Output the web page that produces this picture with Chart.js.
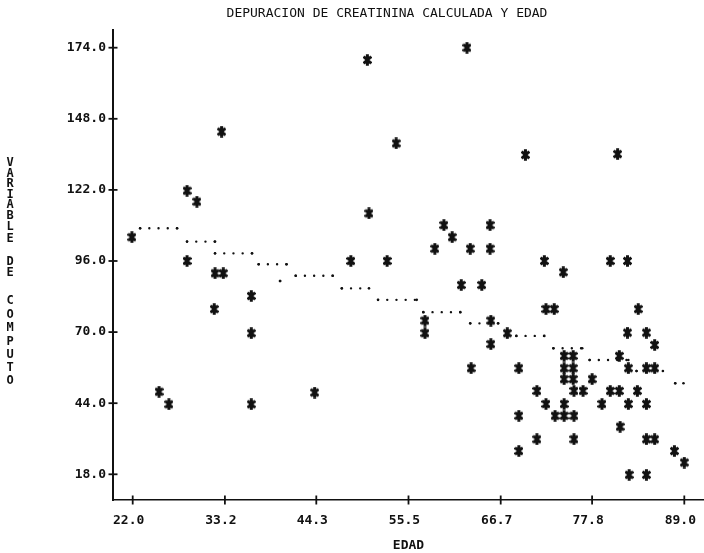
<!DOCTYPE html>
<html><head><meta charset="utf-8">
<script src="https://cdn.jsdelivr.net/npm/chart.js@4.4.0/dist/chart.umd.min.js"></script>
<style>html,body{margin:0;padding:0;background:#fff;overflow:hidden;}</style>
</head><body>
<canvas id="c" width="704" height="553"></canvas>
<script>
const chartTitle = 'DEPURACION DE CREATININA CALCULADA Y EDAD';
const xTitle = 'EDAD';
const yTitle = 'VARIABLE DE COMPUTO';
const xTickValues = [22.0, 33.2, 44.3, 55.5, 66.7, 77.8, 89.0];
const xTickLabels = ['22.0', '33.2', '44.3', '55.5', '66.7', '77.8', '89.0'];
const yTickValues = [18, 44, 70, 96, 122, 148, 174];
const yTickLabels = ['18.0', '44.0', '70.0', '96.0', '122.0', '148.0', '174.0'];

// observed cases: age (EDAD) and calculated creatinine clearance
const edad = [
  21.9, 25.2, 26.4, 28.6, 29.8, 28.6, 32.8, 32.0, 33.0, 31.9, 36.4, 36.4, 36.4, 44.1,
  50.5, 62.6, 54.0, 50.7, 59.8, 65.4, 60.8, 58.7, 63.0, 65.4, 48.5, 52.9, 61.9, 64.4,
  57.5, 57.5, 65.5, 65.5, 67.5, 63.1,
  69.7, 80.9, 72.0, 74.3, 80.0, 82.1, 72.2, 73.2, 83.4, 82.1, 84.4, 85.4, 74.4, 75.5,
  81.1, 68.9, 74.4, 75.5, 82.2, 84.4, 85.4, 74.4, 75.5, 77.8, 71.1, 75.6, 76.7, 80.0,
  81.1, 83.3, 72.2, 74.4, 79.0, 82.2, 84.4, 68.9, 73.3, 74.4, 75.6, 81.2, 71.1, 75.6,
  84.4, 85.4, 68.9, 87.8, 89.0, 82.3, 84.4
];
const depuracion = [
  104.7, 48.2, 43.6, 121.7, 117.7, 96.0, 143.3, 91.5, 91.5, 78.4, 83.2, 69.6, 43.6, 47.9,
  169.5, 174.0, 139.0, 113.4, 109.1, 109.1, 104.7, 100.5, 100.5, 100.5, 96.0, 96.0, 87.2, 87.2,
  74.2, 69.6, 74.2, 65.6, 69.6, 56.8,
  134.8, 135.1, 96.0, 91.9, 96.0, 96.0, 78.4, 78.4, 78.4, 69.8, 69.8, 65.3, 61.3, 61.3,
  61.3, 56.8, 56.8, 56.8, 56.8, 56.8, 56.8, 52.8, 52.8, 52.8, 48.5, 48.5, 48.5, 48.5,
  48.5, 48.5, 43.7, 43.7, 43.7, 43.7, 43.7, 39.4, 39.4, 39.4, 39.4, 35.4, 30.8, 30.8,
  30.8, 30.8, 26.5, 26.5, 22.3, 17.8, 17.8
];

// dotted step curve (running mean): segment start age, end age, level
const trendStart = [22.9, 28.6, 32.0, 37.3, 39.9, 41.8, 47.4, 51.8, 57.3, 63.0, 68.6, 73.1, 77.5, 83.2, 87.9];
const trendEnd   = [27.4, 32.0, 36.5, 40.7, 39.9, 46.3, 50.7, 56.5, 61.8, 66.4, 72.0, 76.6, 82.2, 86.4, 88.9];
const trendLevel = [108.0, 103.1, 98.8, 94.8, 88.7, 90.6, 86.0, 81.8, 77.3, 73.2, 68.6, 64.1, 59.8, 55.8, 51.3];

const INK = '#111';
const FONT = 'DejaVu Sans Mono';

function makeStar() {
  const c = document.createElement('canvas');
  c.width = 9; c.height = 12;
  const g = c.getContext('2d');
  g.strokeStyle = INK; g.lineWidth = 3; g.lineCap = 'butt';
  g.beginPath();
  g.moveTo(4.5, 0.3); g.lineTo(4.5, 11.7);
  g.moveTo(0.6, 2.6); g.lineTo(8.4, 9.4);
  g.moveTo(8.4, 2.6); g.lineTo(0.6, 9.4);
  g.stroke();
  g.fillStyle = INK;
  g.fillRect(2.5, 4, 4, 4);
  return c;
}

const starPts = edad.map((a, i) => ({x: a, y: depuracion[i]}));
const trendPts = [];
trendStart.forEach((s, i) => {
  trendPts.push({x: s, y: trendLevel[i]});
  trendPts.push({x: trendEnd[i], y: trendLevel[i]});
  trendPts.push({x: trendEnd[i], y: null});
});

const decor = {
  id: 'decor',
  afterDraw(chart) {
    const {ctx, chartArea: a, scales: {x, y}} = chart;
    ctx.save();
    ctx.strokeStyle = INK; ctx.lineWidth = 1.8;
    xTickValues.forEach(v => {
      const px = x.getPixelForValue(v);
      ctx.beginPath(); ctx.moveTo(px, a.bottom - 4.5); ctx.lineTo(px, a.bottom + 4.5); ctx.stroke();
    });
    yTickValues.forEach(v => {
      const py = y.getPixelForValue(v);
      ctx.beginPath(); ctx.moveTo(a.left - 4.5, py); ctx.lineTo(a.left + 4.5, py); ctx.stroke();
    });
    ctx.fillStyle = INK;
    ctx.font = '13px "' + FONT + '"';
    ctx.textAlign = 'center'; ctx.textBaseline = 'middle';
    ctx.fillText(chartTitle, 387, 14);
    ctx.font = 'bold 12px "' + FONT + '"';
    const rows = [163, 173.5, 184, 194.5, 205, 216, 227, 238.5, null, 262, 273, null, 301, 314.5, 328, 341.5, 355, 368, 381];
    yTitle.split('').forEach((ch, i) => {
      if (ch !== ' ' && rows[i] != null) ctx.fillText(ch, 10, rows[i]);
    });
    ctx.restore();
  }
};

new Chart(document.getElementById('c'), {
  type: 'scatter',
  data: {
    datasets: [
      {
        label: 'casos',
        data: starPts,
        pointStyle: makeStar(),
        pointRadius: 5,
        pointHoverRadius: 5,
        showLine: false
      },
      {
        label: 'media',
        data: trendPts,
        showLine: true,
        spanGaps: false,
        borderColor: INK,
        borderWidth: 2.4,
        borderDash: [0.01, 9.2],
        borderCapStyle: 'round',
        tension: 0,
        pointRadius: 1.3,
        pointBorderWidth: 0,
        pointBackgroundColor: INK,
        pointHoverRadius: 1.3
      }
    ]
  },
  options: {
    responsive: false,
    animation: false,
    devicePixelRatio: 1,
    layout: {autoPadding: false, padding: {top: 30, left: 0, right: 0, bottom: 0}},
    plugins: {legend: {display: false}, tooltip: {enabled: false}, title: {display: false}},
    scales: {
      x: {
        type: 'linear',
        min: 19.607, max: 91.393,
        afterFit(s) { s.height = 53; },
        afterBuildTicks(s) { s.ticks = xTickValues.map(v => ({value: v})); },
        grid: {display: true, drawOnChartArea: false, drawTicks: true, tickLength: 10, tickColor: 'rgba(0,0,0,0)'},
        border: {display: true, color: INK, width: 1.6, dash: [6, 3.2], dashOffset: 1.7},
        ticks: {
          autoSkip: false, maxRotation: 0, padding: 3, labelOffset: -4,
          color: INK, font: {family: FONT, size: 13, weight: 'bold'},
          callback: (v, i) => xTickLabels[i]
        },
        title: {display: true, text: xTitle, color: INK, font: {family: FONT, size: 13, weight: 'bold'}, padding: {top: 0, bottom: 0}}
      },
      y: {
        type: 'linear',
        min: 8.6, max: 180.47,
        afterFit(s) { s.width = 113; },
        afterBuildTicks(s) { s.ticks = yTickValues.map(v => ({value: v})); },
        grid: {display: true, drawOnChartArea: false, drawTicks: false},
        border: {display: true, color: INK, width: 2, dash: [8.5, 3.25], dashOffset: 10.05},
        ticks: {
          autoSkip: false, padding: 7,
          color: INK, font: {family: FONT, size: 13, weight: 'bold'},
          callback: (v, i) => yTickLabels[i]
        }
      }
    }
  },
  plugins: [decor]
});
</script>
</body></html>
